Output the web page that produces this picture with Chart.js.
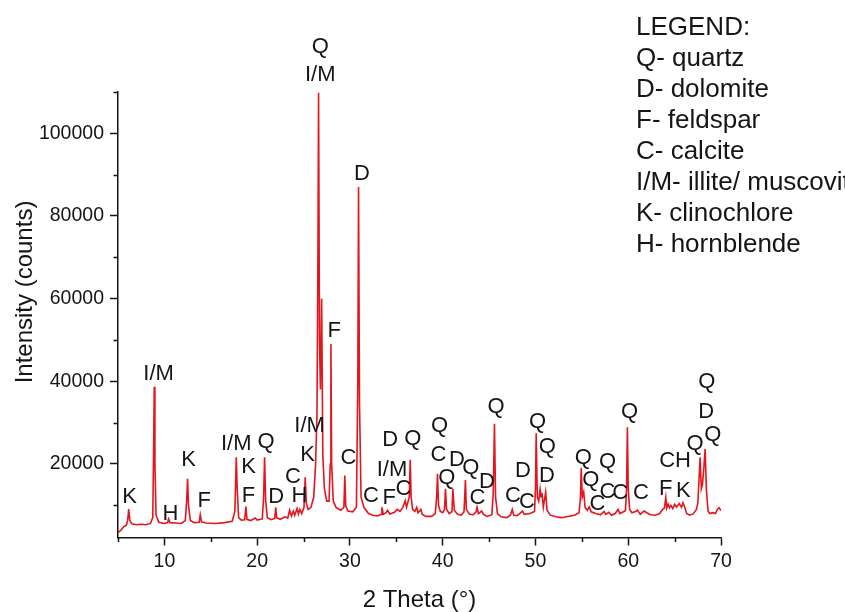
<!DOCTYPE html>
<html>
<head>
<meta charset="utf-8">
<script src="https://cdn.jsdelivr.net/npm/chart.js@4.4.1/dist/chart.umd.min.js"></script>
<style>
  html, body { margin: 0; padding: 0; background: #fff; }
  canvas { display: block; }
</style>
</head>
<body>
<canvas id="xrd" width="845" height="612"></canvas>
<script>
// XRD diffractogram: 2θ (degrees) and measured intensity (counts)
const twoTheta = [
  5.0, 5.3, 5.6, 5.9, 6.05, 6.15, 6.28, 6.5, 7.0, 7.5, 8.0, 8.5,
  8.75, 8.85, 8.91, 8.98, 9.1, 9.4, 10.0, 10.35, 10.45, 10.6, 11.2, 11.8,
  12.25, 12.4, 12.5, 12.6, 12.8, 13.2, 13.75, 13.87, 14.0, 14.5, 15.5, 16.5,
  17.3, 17.6, 17.75, 17.85, 18.0, 18.3, 18.65, 18.79, 18.9, 19.3, 19.8, 20.0,
  20.55, 20.7, 20.8, 20.92, 21.1, 21.5, 21.9, 22.0, 22.1, 22.5, 23.0, 23.3,
  23.5, 23.7, 23.9, 24.05, 24.3, 24.45, 24.6, 24.8, 25.05, 25.18, 25.3, 25.5,
  25.8, 26.1, 26.3, 26.45, 26.55, 26.62, 26.72, 26.82, 26.95, 27.08, 27.25, 27.5,
  27.75, 27.88, 27.95, 28.03, 28.2, 28.5, 29.0, 29.35, 29.45, 29.55, 29.8, 30.3,
  30.7, 30.85, 30.93, 31.03, 31.2, 31.5, 32.0, 32.5, 33.0, 33.35, 33.45, 33.6,
  33.9, 34.05, 34.3, 34.8, 35.1, 35.4, 35.7, 35.96, 36.1, 36.4, 36.5, 36.6,
  36.75, 37.0, 37.2, 37.35, 37.65, 37.8, 38.2, 38.8, 39.2, 39.35, 39.44, 39.55,
  39.75, 40.0, 40.2, 40.3, 40.42, 40.7, 41.0, 41.1, 41.25, 41.6, 42.0, 42.3,
  42.45, 42.55, 42.9, 43.3, 43.6, 43.7, 43.85, 44.2, 44.4, 44.8, 45.3, 45.45,
  45.58, 45.7, 45.9, 46.3, 46.9, 47.3, 47.5, 47.65, 48.0, 48.3, 48.6, 48.8,
  49.4, 49.9, 50.0, 50.08, 50.2, 50.35, 50.5, 50.6, 50.7, 50.85, 51.1, 51.25,
  51.6, 52.2, 52.8, 53.5, 54.2, 54.7, 54.85, 54.93, 55.05, 55.2, 55.35, 55.6,
  55.8, 56.0, 56.5, 57.0, 57.4, 57.6, 57.9, 58.2, 58.6, 58.9, 59.1, 59.7,
  59.82, 59.91, 60.0, 60.15, 60.4, 60.8, 61.0, 61.3, 61.7, 62.0, 62.4, 62.9,
  63.4, 63.7, 63.9, 64.05, 64.15, 64.3, 64.45, 64.6, 64.8, 65.0, 65.2, 65.5,
  65.75, 65.9, 66.05, 66.3, 66.6, 67.0, 67.35, 67.5, 67.65, 67.75, 67.88, 68.0,
  68.15, 68.29, 68.42, 68.6, 68.8, 69.1, 69.4, 69.6, 69.8, 70.0
];
const intensity = [
  3400, 3900, 4800, 5200, 6400, 9100, 6300, 5500, 5300, 5400, 5300, 5600,
  7000, 26000, 38700, 20000, 7600, 5900, 5600, 5800, 6700, 5800, 5700, 5600,
  6300, 11000, 16400, 10000, 6300, 5800, 5900, 7700, 6000, 5700, 5600, 5800,
  6100, 8500, 21600, 14000, 7000, 6400, 6500, 9700, 6600, 6300, 6900, 6400,
  6700, 12000, 21600, 11000, 7000, 6500, 6800, 9500, 7000, 6600, 7200, 6900,
  8800, 7400, 8600, 7600, 9200, 7900, 9000, 8000, 9500, 16800, 10500, 9000,
  9500, 12000, 20000, 32000, 70000, 109800, 50000, 38000, 60000, 22000, 14000, 11000,
  11000, 20000, 49000, 20000, 11000, 9500, 8800, 9500, 17200, 9800, 8600, 8400,
  9500, 40000, 87000, 35000, 12000, 9500, 8000, 7600, 7400, 7800, 9500, 7800,
  8200, 8800, 7900, 8300, 9000, 8500, 9500, 11100, 9500, 12000, 21000, 12000,
  9000, 8500, 9500, 8200, 9000, 7800, 7300, 7300, 8000, 12000, 17600, 10000,
  8500, 8200, 9000, 14000, 9000, 8000, 8500, 14000, 8800, 7800, 7600, 8400,
  16100, 9000, 7800, 7700, 8400, 9500, 8000, 8600, 7800, 7300, 7700, 13000,
  29700, 12000, 8000, 7200, 7000, 7600, 9000, 7600, 7500, 8000, 8600, 7800,
  8000, 8500, 14000, 27400, 12000, 11000, 13900, 12000, 13000, 9500, 13200, 8800,
  7600, 7200, 7000, 7300, 7600, 8200, 12000, 19000, 12000, 13200, 9500, 8800,
  9600, 8400, 8000, 7700, 8500, 7800, 8300, 7600, 8000, 9000, 8000, 8700,
  14000, 28900, 14000, 9000, 8200, 8500, 8800, 7800, 8600, 8200, 7700, 7600,
  8000, 9000, 9300, 11900, 9300, 10300, 9400, 10000, 9200, 10200, 9600, 10400,
  9500, 10600, 9800, 8000, 7600, 7900, 9000, 10500, 17000, 21600, 14000, 15000,
  19000, 23600, 14000, 8600, 8000, 8200, 8000, 9000, 9400, 8700
];

// Axis ticks
const xMajorTicks = [10, 20, 30, 40, 50, 60, 70];
const xMinorTicks = [5, 15, 25, 35, 45, 55, 65];
const yMajorTicks = [20000, 40000, 60000, 80000, 100000];
const yMinorTicks = [10000, 30000, 50000, 70000, 90000, 110000];

// Phase tags placed above the reflections (2θ, counts)
const peakTags = [
  'K', 'I/M', 'H', 'K', 'F', 'I/M', 'K', 'F', 'Q', 'D', 'C', 'H', 'I/M', 'K', 'C',
  'Q', 'I/M', 'D', 'F', 'C', 'D', 'Q', 'I/M', 'F', 'C', 'Q', 'C', 'D', 'Q', 'Q',
  'D', 'C', 'Q', 'D', 'C', 'C', 'Q', 'Q', 'D', 'Q', 'Q', 'C', 'Q', 'C', 'C',
  'Q', 'C', 'CH', 'F', 'K', 'Q', 'Q', 'D', 'Q'
];
const peakTagX = [
  6.25, 9.37, 10.64, 12.61, 14.30, 17.75, 19.07, 19.07, 20.95, 22.06, 23.86, 24.57, 25.65, 25.43, 29.85,
  26.80, 26.80, 31.29, 28.31, 32.26, 34.34, 36.79, 34.53, 34.24, 35.78, 39.66, 39.55, 41.53, 40.45, 43.04,
  44.76, 43.75, 45.76, 48.64, 47.56, 49.07, 50.22, 51.29, 51.23, 55.17, 55.97, 56.68, 57.76, 57.76, 59.13,
  60.13, 61.36, 65.05, 64.05, 65.95, 67.21, 68.47, 68.40, 69.12
];
const peakTagY = [
  11910, 41800, 7890, 20970, 11110, 24840, 19340, 12320, 25230, 12080, 16920, 12320, 29270, 22180, 21450,
  120900, 114040, 90240, 52280, 12320, 25810, 26050, 18540, 11760, 13940, 29270, 22250, 20970, 16610, 19030,
  15540, 11760, 33710, 18380, 12320, 10700, 30240, 24190, 17170, 21450, 16120, 10310, 20390, 13120, 12880,
  32500, 12880, 20800, 13940, 13360, 24840, 39760, 32500, 27100
];

const legendLines = [
  'LEGEND:',
  'Q- quartz',
  'D- dolomite',
  'F- feldspar',
  'C- calcite',
  'I/M- illite/ muscovite',
  'K- clinochlore',
  'H- hornblende'
];

const FAMILY = '"Liberation Sans", Arial, Helvetica, sans-serif';
const INK = '#151515';

const annotations = {
  id: 'annotations',
  afterDraw(chart) {
    const { ctx, chartArea, scales: { x, y } } = chart;
    ctx.save();

    // minor tick marks on both axes
    ctx.strokeStyle = INK;
    ctx.lineWidth = 1.5;
    ctx.beginPath();
    xMinorTicks.forEach(v => {
      const px = Math.round(x.getPixelForValue(v)) + 0.5;
      ctx.moveTo(px, chartArea.bottom);
      ctx.lineTo(px, chartArea.bottom + 4.5);
    });
    yMinorTicks.forEach(v => {
      const py = Math.round(y.getPixelForValue(v)) + 0.5;
      ctx.moveTo(chartArea.left, py);
      ctx.lineTo(chartArea.left - 4.5, py);
    });
    ctx.stroke();

    // phase tags
    ctx.fillStyle = INK;
    ctx.font = `22px ${FAMILY}`;
    ctx.textAlign = 'center';
    ctx.textBaseline = 'middle';
    peakTags.forEach((t, i) => {
      ctx.fillText(t, x.getPixelForValue(peakTagX[i]), y.getPixelForValue(peakTagY[i]));
    });

    // vertical axis title
    ctx.save();
    ctx.translate(25, 292);
    ctx.rotate(-Math.PI / 2);
    ctx.font = `24px ${FAMILY}`;
    ctx.fillText('Intensity (counts)', 0, 0);
    ctx.restore();

    // legend block
    ctx.textAlign = 'left';
    ctx.font = `26px ${FAMILY}`;
    legendLines.forEach((t, i) => ctx.fillText(t, 636, 27.5 + i * 31.1));

    ctx.restore();
  }
};

new Chart(document.getElementById('xrd'), {
  type: 'line',
  data: {
    datasets: [{
      data: twoTheta.map((t, i) => ({ x: t, y: intensity[i] })),
      borderColor: '#e5141d',
      borderWidth: 1.6,
      pointRadius: 0,
      tension: 0,
      fill: false
    }]
  },
  options: {
    responsive: false,
    animation: false,
    devicePixelRatio: 1,
    layout: { padding: { top: 92, right: 124, left: 0, bottom: 0 } },
    plugins: { legend: { display: false }, tooltip: { enabled: false } },
    scales: {
      x: {
        type: 'linear',
        min: 5,
        max: 70,
        afterBuildTicks: s => { s.ticks = xMajorTicks.map(v => ({ value: v })); },
        afterFit: s => { s.height = 74.5; },
        grid: { drawOnChartArea: false, drawTicks: true, tickLength: 8, tickWidth: 1.5, tickColor: INK },
        border: { display: true, color: INK, width: 1.5 },
        ticks: {
          color: INK, padding: 4, maxRotation: 0, autoSkip: false,
          font: { family: FAMILY, size: 19.5 },
          callback: v => String(v)
        },
        title: {
          display: true, text: '2 Theta (°)', color: INK, padding: 0,
          font: { family: FAMILY, size: 24, lineHeight: 1.0 }
        }
      },
      y: {
        type: 'linear',
        min: 2200,
        max: 110000,
        afterBuildTicks: s => { s.ticks = yMajorTicks.map(v => ({ value: v })); },
        afterFit: s => { s.width = 118; },
        grid: { drawOnChartArea: false, drawTicks: true, tickLength: 8, tickWidth: 1.5, tickColor: INK },
        border: { display: true, color: INK, width: 1.5 },
        ticks: {
          color: INK, padding: 6,
          font: { family: FAMILY, size: 19.5 },
          callback: v => String(v)
        }
      }
    }
  },
  plugins: [annotations]
});
</script>
</body>
</html>
